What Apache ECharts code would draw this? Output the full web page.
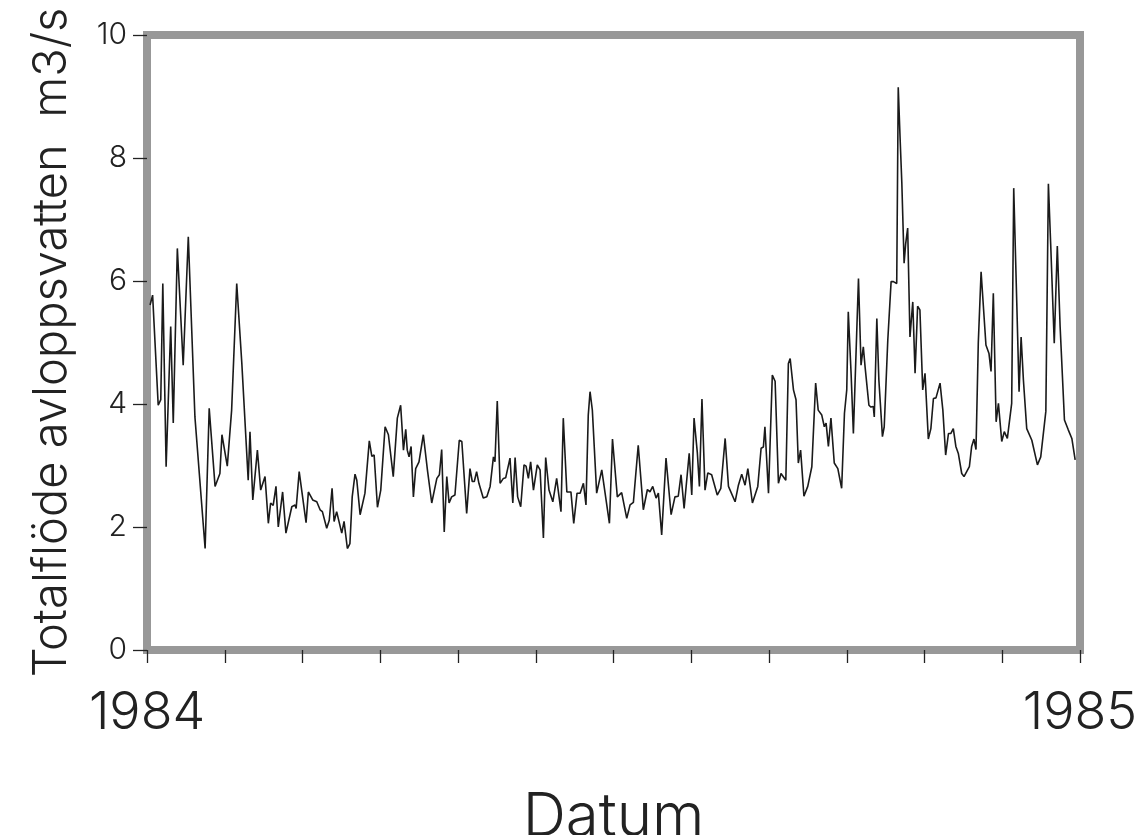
<!DOCTYPE html>
<html>
<head>
<meta charset="utf-8">
<title>Totalflöde avloppsvatten 1984</title>
<script src="https://cdn.jsdelivr.net/npm/echarts@6/dist/echarts.min.js"></script>
<style>
html, body { margin: 0; padding: 0; background: #fff; }
#chart { width: 1141px; height: 835px; }
</style>
</head>
<body>
<div id="chart"></div>
<script>
// dag på året (0 = 1 jan 1984, 366 = 1 jan 1985) och flöde i m3/s, avläst från kurvan
var day = [1.2,2.2,4.4,5.4,6.2,7.5,9.3,10.3,11.9,14.2,16.2,18.8,22.8,24.4,26.7,28.6,29.4,31.5,33.2,35.2,
  37.2,39.7,40.4,41.5,43.3,44.6,46.3,47.6,48.5,49.5,50.6,51.5,53.2,54.5,56.8,58.1,58.5,59.7,62.4,63.3,
  65.0,66.6,67.9,68.8,70.5,71.5,72.6,73.4,74.4,76.4,77.3,78.6,79.6,80.5,81.6,82.3,83.6,85.5,87.2,88.2,
  89.1,90.4,91.7,93.4,94.7,96.6,98.2,99.5,100.6,101.5,102.1,102.8,103.6,104.5,105.4,106.7,108.4,110.0,111.7,113.7,
  114.7,115.6,116.6,117.6,118.5,119.5,120.8,122.5,123.5,125.4,126.7,127.6,128.4,129.3,130.2,131.9,133.3,134.6,135.9,136.5,
  137.4,138.5,139.8,140.7,142.4,143.5,144.4,145.4,146.6,147.9,148.7,149.6,150.5,151.6,153.1,154.2,155.5,156.4,157.7,159.2,
  160.7,161.4,162.4,163.3,164.7,166.3,167.4,168.7,169.9,171.2,172.2,173.1,173.8,174.7,176.4,178.4,181.4,182.6,184.5,186.2,
  188.2,189.5,190.8,192.7,193.4,194.7,196.3,197.3,198.4,199.7,200.6,201.9,203.6,205.6,207.1,208.4,209.5,210.7,212.7,213.7,
  214.6,215.9,216.7,217.7,218.9,220.0,221.5,223.7,225.1,226.8,228.1,230.7,232.0,233.3,234.6,235.7,237.5,239.6,240.9,241.8,
  242.4,243.8,244.4,245.3,246.4,247.7,248.7,250.6,251.6,252.3,253.6,254.6,255.5,256.4,257.7,259.2,260.8,262.3,263.3,264.7,
  265.7,266.4,267.3,268.3,269.6,271.0,271.5,272.5,273.6,274.5,275.1,276.2,277.1,278.4,279.1,280.1,281.0,281.7,283.2,284.0,
  284.9,285.3,286.3,287.1,288.5,289.2,290.6,291.9,292.8,294.1,294.7,295.4,296.1,297.0,297.6,298.4,299.3,300.4,301.3,302.3,
  303.2,304.3,305.2,306.5,307.5,308.5,309.5,311.1,312.2,313.3,314.4,315.3,316.3,317.3,318.3,319.6,320.5,322.6,323.5,324.4,
  325.2,326.1,327.2,327.9,329.1,330.3,331.1,332.0,333.1,334.0,335.3,336.3,337.5,339.2,340.0,341.2,342.1,342.9,343.8,345.1,
  347.1,349.3,350.6,352.6,353.6,354.5,355.9,357.1,358.2,359.9,361.4,362.8,364.1];
var flow = [5.61,5.77,3.98,4.07,5.96,2.98,5.26,3.69,6.53,4.63,6.72,3.79,1.65,3.93,2.66,2.87,3.50,2.99,3.90,5.96,
  4.66,2.76,3.55,2.44,3.25,2.60,2.82,2.06,2.39,2.35,2.66,2.00,2.57,1.90,2.33,2.36,2.30,2.90,2.07,2.57,
  2.44,2.41,2.28,2.25,1.98,2.11,2.63,2.09,2.25,1.90,2.09,1.65,1.73,2.49,2.86,2.76,2.20,2.55,3.40,3.15,
  3.17,2.32,2.60,3.63,3.50,2.82,3.77,3.98,3.25,3.59,3.25,3.14,3.31,2.49,2.95,3.06,3.50,2.93,2.39,2.79,
  2.85,3.26,1.92,2.82,2.39,2.49,2.52,3.41,3.39,2.22,2.95,2.74,2.74,2.90,2.71,2.47,2.49,2.66,3.14,3.06,
  4.05,2.71,2.79,2.80,3.12,2.39,3.13,2.49,2.33,3.01,2.99,2.79,3.06,2.60,3.01,2.93,1.82,3.13,2.60,2.41,
  2.79,2.77,2.25,3.77,2.57,2.57,2.06,2.55,2.55,2.71,2.36,3.82,4.20,3.90,2.55,2.93,2.06,3.43,2.49,2.56,
  2.14,2.36,2.40,3.33,3.30,2.28,2.61,2.57,2.66,2.47,2.55,1.87,3.12,2.20,2.49,2.50,2.85,2.30,3.20,2.52,
  3.77,3.20,2.66,4.08,2.60,2.88,2.85,2.52,2.63,3.44,2.66,2.41,2.68,2.86,2.68,2.95,2.39,2.66,3.28,3.30,
  3.63,2.55,2.55,4.47,4.37,2.71,2.87,2.76,4.66,4.74,4.23,4.07,3.04,3.25,2.50,2.66,2.98,4.34,3.90,3.82,
  3.63,3.69,3.31,3.77,3.04,2.95,2.98,2.63,3.85,4.23,5.50,4.50,3.52,5.15,6.04,4.63,4.93,4.60,3.98,3.95,
  3.96,3.79,5.39,4.39,3.47,3.63,5.04,5.99,5.99,5.96,9.15,8.35,7.60,6.29,6.60,6.86,5.09,5.66,4.50,5.59,
  5.53,4.23,4.50,3.43,3.60,4.09,4.10,4.34,3.90,3.17,3.52,3.52,3.60,3.31,3.19,2.87,2.82,2.98,3.31,3.43,
  3.26,4.99,6.15,6.18,4.96,4.82,4.53,5.80,3.71,4.01,3.39,3.55,3.44,4.01,7.51,5.64,4.20,5.09,4.39,3.60,
  3.41,3.01,3.14,3.88,7.58,6.60,4.99,6.57,5.26,3.74,3.58,3.44,3.09];

var yearLabels = ['1984', '1985'];
var yTicks = [0, 2, 4, 6, 8, 10];

var points = day.map(function (d, i) { return [d, flow[i]]; });

var textFont = 'Inter, "Liberation Sans", sans-serif';
var chart = echarts.init(document.getElementById('chart'));

var option = {
  animation: false,
  backgroundColor: '#ffffff',
  grid: {
    left: 147, right: 61, top: 35, bottom: 185,
    outerBoundsMode: 'none',
    containLabel: false,
    show: true,
    borderColor: '#989898',
    borderWidth: 8
  },
  xAxis: {
    type: 'value',
    min: 0,
    max: 366,
    interval: 30.5,
    splitLine: { show: false },
    axisLine: { show: false },
    axisTick: { show: true, length: 13, lineStyle: { color: '#222', width: 1.3 } },
    axisLabel: {
      margin: 37,
      fontFamily: textFont,
      fontWeight: 300,
      fontSize: 52,
      color: '#222',
      showMinLabel: true,
      showMaxLabel: true,
      formatter: function (v) {
        if (v === 0) return yearLabels[0];
        if (Math.abs(v - 366) < 0.01) return yearLabels[1];
        return '';
      }
    },
    name: 'Datum',
    nameLocation: 'middle',
    nameGap: 138,
    nameTextStyle: { fontFamily: textFont, fontWeight: 300, fontSize: 60, color: '#222' }
  },
  yAxis: {
    type: 'value',
    min: yTicks[0],
    max: yTicks[yTicks.length - 1],
    interval: 2,
    splitLine: { show: false },
    axisLine: { show: false },
    axisTick: { show: true, length: 14, lineStyle: { color: '#222', width: 1.3 } },
    axisLabel: {
      margin: 20,
      fontFamily: textFont,
      fontWeight: 300,
      fontSize: 30,
      color: '#222'
    },
    name: 'Totalflöde avloppsvatten  m3/s',
    nameLocation: 'middle',
    nameGap: 72,
    nameTextStyle: { fontFamily: textFont, fontWeight: 300, fontSize: 47, color: '#222' }
  },
  series: [{
    type: 'line',
    data: points,
    showSymbol: false,
    symbol: 'none',
    lineStyle: { color: '#1a1a1a', width: 1.6 },
    z: 3
  }]
};
chart.setOption(option);
</script>
</body>
</html>
